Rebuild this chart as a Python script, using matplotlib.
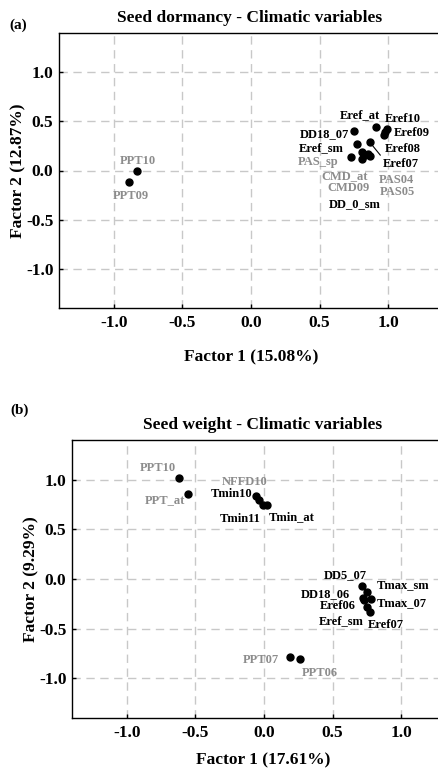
import matplotlib
matplotlib.use("Agg")
import matplotlib.pyplot as plt

# ---- panel (a): seed dormancy ----
a_names = ["PPT10", "PPT09", "DD18_07", "Eref_at", "Eref10", "Eref09", "Eref08",
           "Eref07", "Eref_sm", "PAS_sp", "CMD_at", "PAS04", "CMD09", "PAS05", "DD_0_sm"]
a_x = [-0.83, -0.89, 0.75, 0.91, 0.99, 0.98, 0.97,
       0.865, 0.77, 0.73, 0.81, 0.87, 0.81, 0.85, 0.83]
a_y = [-0.01, -0.12, 0.40, 0.445, 0.42, 0.39, 0.36,
       0.29, 0.27, 0.14, 0.19, 0.15, 0.12, 0.17, 0.16]
a_grey = ["PPT10", "PPT09", "PAS_sp", "CMD_at", "PAS04", "CMD09", "PAS05"]
# label offsets (pixels, up is positive)
a_off = [(1, 10), (2, -14), (-29, -3), (-16, 12), (16, 10), (26, -1), (19, -14),
         (31, -22), (-35, -4), (-33, -5), (-17, -24), (26, -24), (-14, -29), (30, -38), (-10, -49)]

# ---- panel (b): seed weight ----
b_names = ["PPT10", "PPT_at", "NFFD10", "Tmin10", "Tmin11", "Tmin_at",
           "DD5_07", "Tmax_sm", "DD18_06", "Eref06", "Tmax_07", "Eref_sm", "Eref07",
           "PPT07", "PPT06"]
b_x = [-0.62, -0.555, -0.055, -0.04, -0.005, 0.02,
       0.715, 0.75, 0.725, 0.73, 0.78, 0.75, 0.77,
       0.19, 0.26]
b_y = [1.015, 0.855, 0.835, 0.80, 0.745, 0.745,
       -0.07, -0.135, -0.19, -0.21, -0.20, -0.28, -0.33,
       -0.785, -0.805]
b_grey = ["PPT10", "PPT_at", "NFFD10", "PPT07", "PPT06"]
b_off = [(-21, 10), (-23, -6), (-12, 14), (-27, 6), (-23, -14), (25, -12),
         (-17, 11), (36, 7), (-38, 4), (-26, -6), (31, -4), (-26, -14), (16, -13),
         (-29, -3), (20, -14)]

ticks = [-1.0, -0.5, 0.0, 0.5, 1.0]
serif = ["Liberation Serif", "DejaVu Serif"]
grey = "#8c8c8c"

fig = plt.figure(figsize=(4.39, 7.71), dpi=100)
ax_a = fig.add_axes([59 / 439, 1 - 308 / 771, 384 / 439, 275 / 771])
ax_b = fig.add_axes([72 / 439, 1 - 718 / 771, 384 / 439, 278 / 771])


def draw_panel(ax, names, xs, ys, greys, offs, title, xlab, ylab, xpad, leader=None):
    ax.set_xlim(-1.4, 1.4)
    ax.set_ylim(-1.4, 1.4)
    ax.set_xticks(ticks)
    ax.set_yticks(ticks)
    ax.set_xticklabels([f"{t:.1f}" for t in ticks])
    ax.set_yticklabels([f"{t:.1f}" for t in ticks])
    for lab in ax.get_xticklabels() + ax.get_yticklabels():
        lab.set_family(serif)
        lab.set_fontweight("bold")
        lab.set_fontsize(12.5)
    ax.tick_params(axis="x", direction="in", length=3, width=1, pad=5)
    ax.tick_params(axis="y", direction="in", length=3, width=1, pad=4)
    ax.spines["right"].set_visible(False)
    for s in ["left", "top", "bottom"]:
        ax.spines[s].set_linewidth(1)
    ax.grid(True, color="#c8c8c8", linestyle=(0, (6, 4)), linewidth=1)
    ax.set_axisbelow(True)
    ax.plot(xs, ys, "o", color="black", markersize=5, zorder=3)
    for n, x, y, (dx, dy) in zip(names, xs, ys, offs):
        c = grey if n in greys else "black"
        props = None
        if n == leader:
            props = dict(arrowstyle="-", color="black", lw=0.8, shrinkA=0, shrinkB=0,
                         relpos=(0.0, 1.0))
        ax.annotate(n, (x, y), xytext=(dx * 0.72, dy * 0.72), textcoords="offset points",
                    ha="center", va="center", fontsize=9, fontweight="bold",
                    family=serif, color=c, arrowprops=props, zorder=4)
    ax.set_title(title, fontsize=12.5, fontweight="bold", family=serif, pad=8)
    ax.set_xlabel(xlab, fontsize=12.5, fontweight="bold", family=serif, labelpad=xpad)
    ax.set_ylabel(ylab, fontsize=12.5, fontweight="bold", family=serif, labelpad=0)


draw_panel(ax_a, a_names, a_x, a_y, a_grey, a_off,
           "Seed dormancy - Climatic variables", "Factor 1 (15.08%)", "Factor 2 (12.87%)",
           13, leader="Eref07")
draw_panel(ax_b, b_names, b_x, b_y, b_grey, b_off,
           "Seed weight - Climatic variables", "Factor 1 (17.61%)", "Factor 2 (9.29%)", 8)

# titles and x labels sit over the visible part of the axes
ax_a.title.set_x((250 - 59) / 384)
ax_b.title.set_x((263 - 72) / 384)
ax_a.xaxis.label.set_x((251 - 59) / 384)
ax_b.xaxis.label.set_x((263 - 72) / 384)

fig.text(18 / 439, 1 - 25 / 771, "(a)", fontsize=11, fontweight="bold", family=serif,
         ha="center", va="center")
fig.text(20 / 439, 1 - 410 / 771, "(b)", fontsize=11, fontweight="bold", family=serif,
         ha="center", va="center")

fig.savefig("out.png", dpi=100)
